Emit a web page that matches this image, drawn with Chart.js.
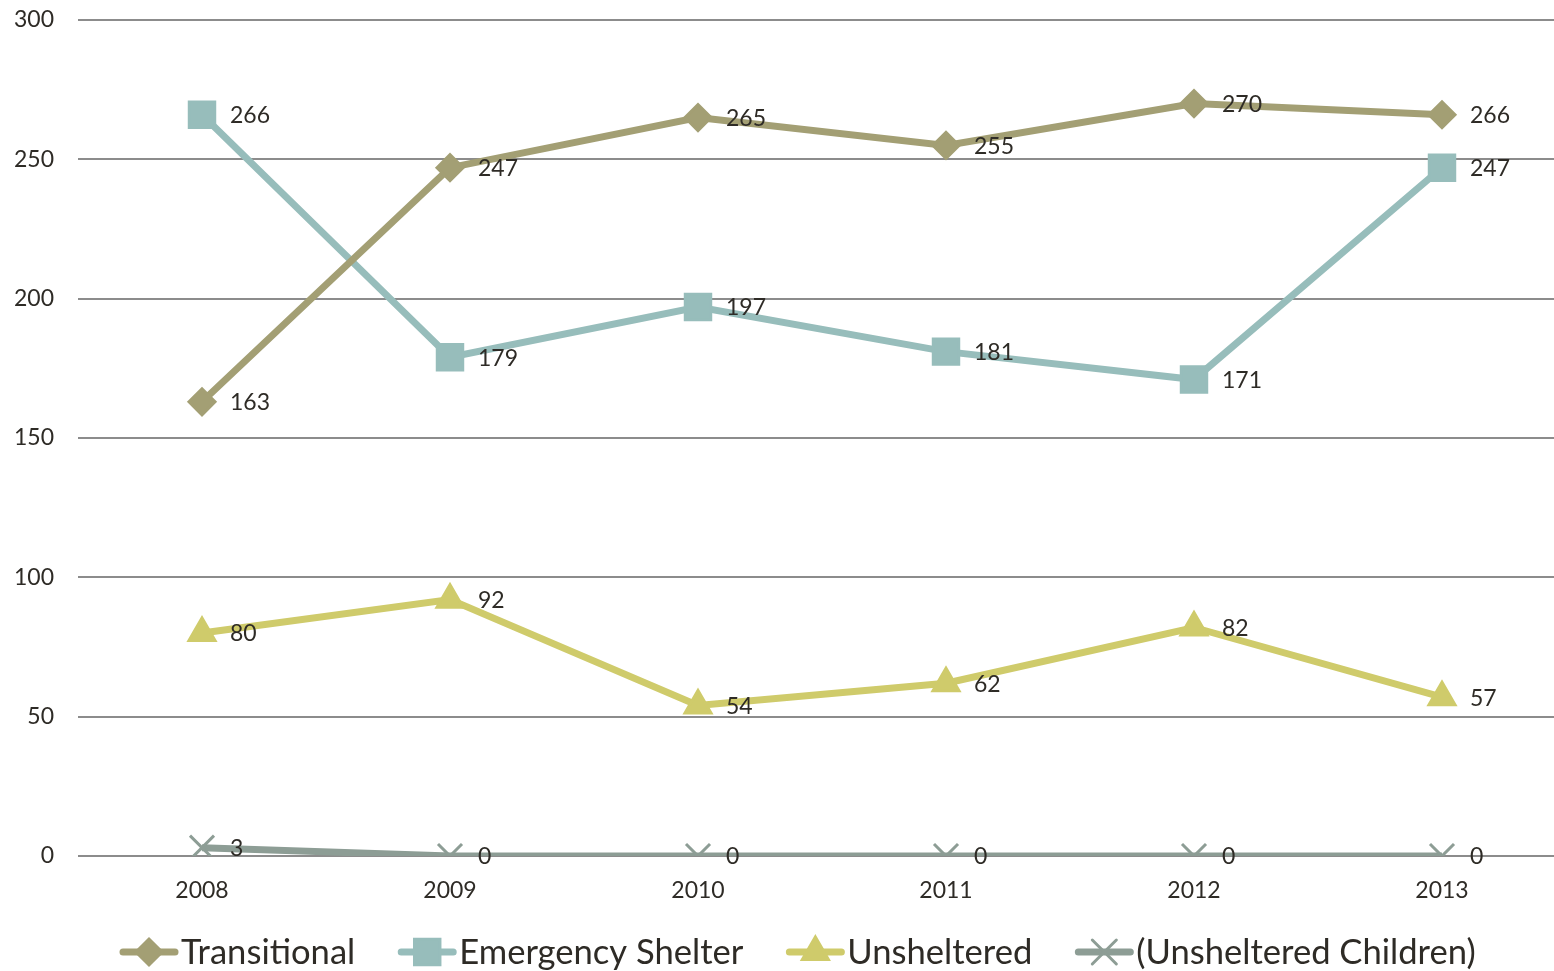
<!DOCTYPE html>
<html>
<head>
<meta charset="utf-8">
<script src="https://cdn.jsdelivr.net/npm/chart.js@4"></script>
<style>
  html, body { margin: 0; padding: 0; background: #ffffff; overflow: hidden; width: 1554px; height: 971px; }
  canvas { display: block; }
</style>
</head>
<body>
<!-- plot runs a little past the right edge, as in the source picture -->
<canvas id="chart" width="1566" height="971"></canvas>
<script>
// Data
const years = ["2008", "2009", "2010", "2011", "2012", "2013"];
const transitional = [163, 247, 265, 255, 270, 266];
const emergencyShelter = [266, 179, 197, 181, 171, 247];
const unsheltered = [80, 92, 54, 62, 82, 57];
const unshelteredChildren = [3, 0, 0, 0, 0, 0];

const FONT = "Lato, 'Open Sans', sans-serif";
const TEXT = "#2e2b26";

// series look: label, values, colour, marker
const series = [
  { label: "Transitional", data: transitional, color: "#a39f74", style: "rectRot", radius: 13 },
  { label: "Emergency Shelter", data: emergencyShelter, color: "#97bdbb", style: "rect", radius: 18 },
  { label: "Unsheltered", data: unsheltered, color: "#cfcb6b", style: "triangle", radius: 15 },
  { label: "(Unsheltered Children)", data: unshelteredChildren, color: "#8d9d95", style: "crossRot", radius: 17 }
];

// value labels right of each point
const valueLabels = {
  id: "valueLabels",
  afterDatasetsDraw(chart) {
    const ctx = chart.ctx;
    ctx.save();
    ctx.font = "23px " + FONT;
    ctx.fillStyle = TEXT;
    ctx.textAlign = "left";
    ctx.textBaseline = "middle";
    chart.data.datasets.forEach((ds, i) => {
      chart.getDatasetMeta(i).data.forEach((pt, j) => {
        ctx.fillText(String(ds.data[j]), pt.x + 28, pt.y + 1);
      });
    });
    ctx.restore();
  }
};

// legend at the bottom: line + marker, then the name
const lineLegend = {
  id: "lineLegend",
  afterDraw(chart) {
    const ctx = chart.ctx;
    const y = 952;
    let x = 120;
    ctx.save();
    ctx.font = "34.6px " + FONT;
    ctx.textBaseline = "middle";
    ctx.textAlign = "left";
    series.forEach((s) => {
      ctx.strokeStyle = s.color;
      ctx.lineWidth = 7;
      ctx.lineCap = "round";
      ctx.beginPath();
      ctx.moveTo(x + 3, y);
      ctx.lineTo(x + 55, y);
      ctx.stroke();
      ctx.fillStyle = s.color;
      ctx.lineWidth = 3;
      Chart.helpers.drawPoint(ctx, { pointStyle: s.style, radius: s.radius, rotation: 0, borderWidth: 3 }, x + 29, y);
      ctx.fillStyle = TEXT;
      ctx.fillText(s.label, x + 61, y + 1);
      x += 61 + ctx.measureText(s.label).width + 43;
    });
    ctx.restore();
  }
};

new Chart(document.getElementById("chart").getContext("2d"), {
  type: "line",
  data: {
    labels: years,
    datasets: series.map((s) => ({
      label: s.label,
      data: s.data,
      borderColor: s.color,
      backgroundColor: s.color,
      borderWidth: 7,
      pointStyle: s.style,
      pointRadius: s.radius,
      pointHoverRadius: s.radius,
      pointBorderWidth: 3,
      pointBorderColor: s.color,
      pointBackgroundColor: s.color,
      tension: 0,
      fill: false
    }))
  },
  options: {
    responsive: false,
    animation: false,
    layout: { autoPadding: false, padding: { left: 13, right: 0, top: 20, bottom: 55 } },
    scales: {
      x: {
        offset: true,
        grid: { display: false, drawTicks: false },
        border: { display: false },
        ticks: { font: { family: FONT, size: 23 }, color: TEXT, padding: 21 },
        afterFit: (axis) => { axis.height = 60; }
      },
      y: {
        min: 0,
        max: 300,
        ticks: { stepSize: 50, font: { family: FONT, size: 23 }, color: TEXT, padding: 24 },
        grid: { color: "#8c8c8c", lineWidth: 2, drawTicks: false },
        border: { display: false },
        afterFit: (axis) => { axis.width = 65; axis.paddingTop = 0; axis.paddingBottom = 0; }
      }
    },
    plugins: {
      tooltip: { enabled: false },
      legend: { display: false }
    }
  },
  plugins: [valueLabels, lineLegend]
});
</script>
</body>
</html>
